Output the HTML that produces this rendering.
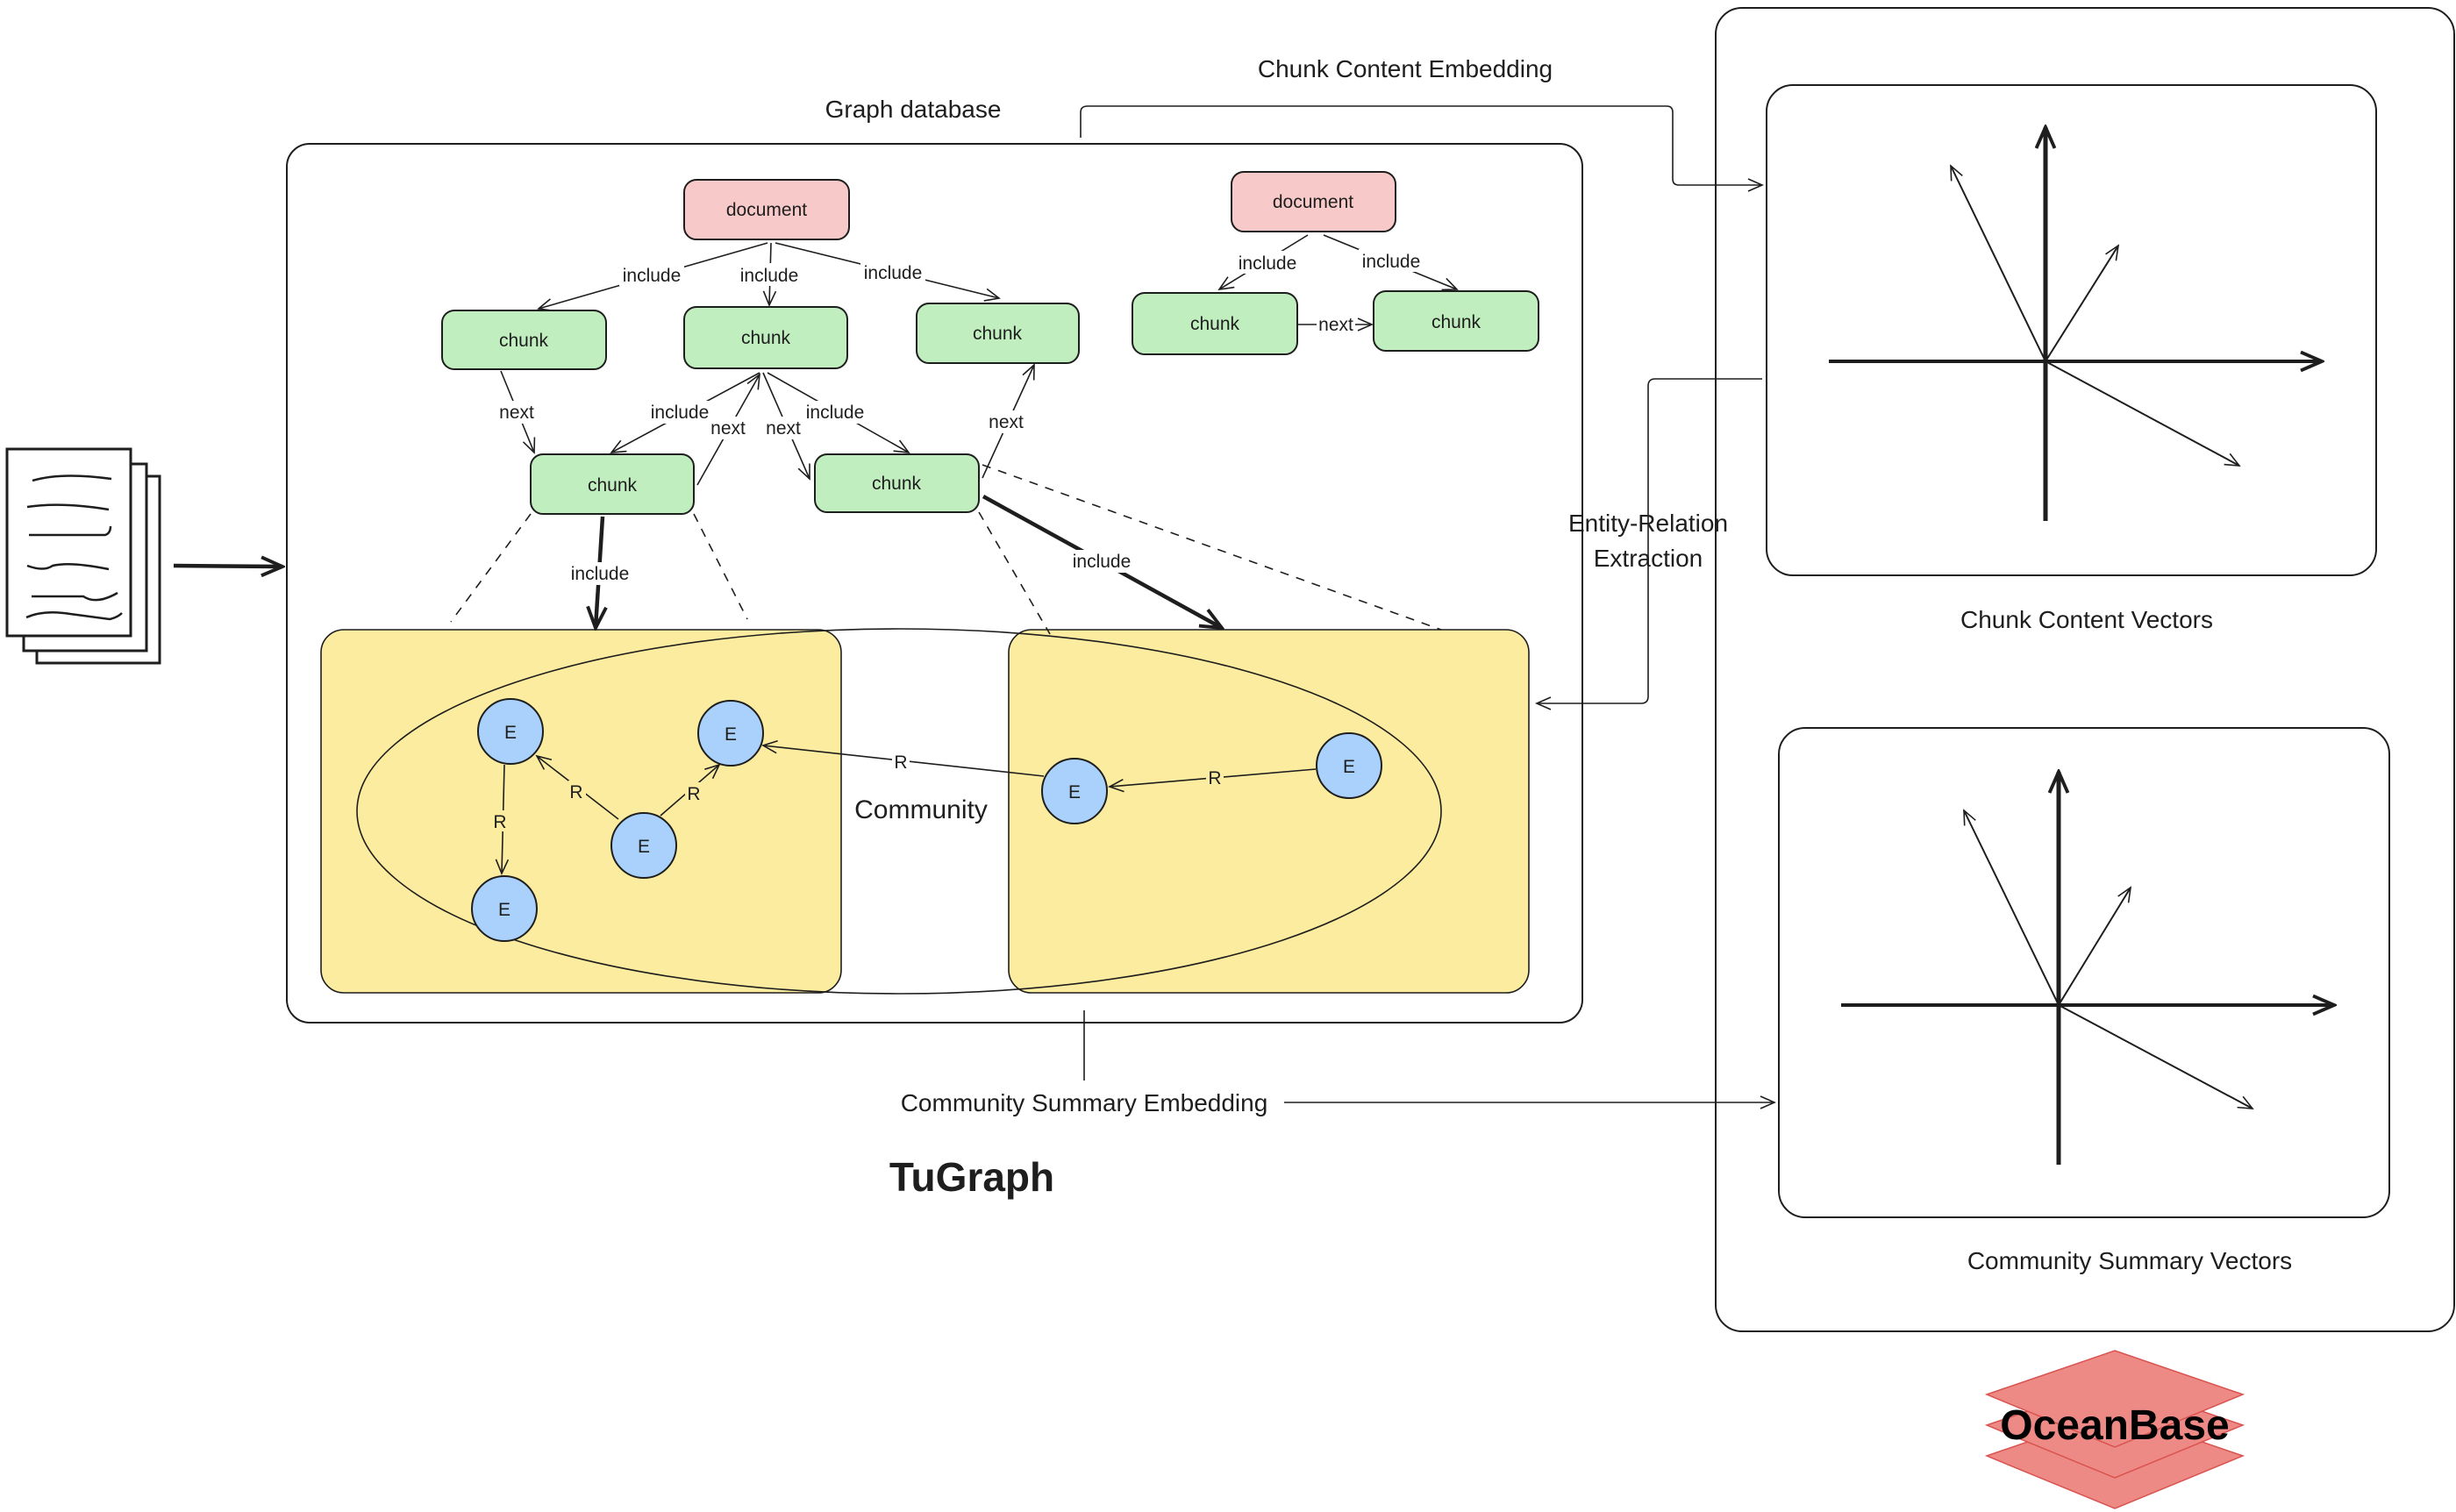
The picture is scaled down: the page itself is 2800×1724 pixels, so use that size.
<!DOCTYPE html>
<html><head><meta charset="utf-8"><style>
html,body{margin:0;padding:0;background:#fff}
svg{display:block}
text{font-family:"Liberation Sans",sans-serif;fill:#1e1e1e}
</style></head><body>
<svg width="2800" height="1724" viewBox="0 0 2800 1724" xmlns="http://www.w3.org/2000/svg">
<defs>
<marker id="a" viewBox="0 0 20 20" refX="18" refY="10" markerWidth="20" markerHeight="20" markerUnits="userSpaceOnUse" orient="auto"><path d="M2 3 L18 10 L2 17" fill="none" stroke="#1e1e1e" stroke-width="1.6"/></marker>
<marker id="b" viewBox="0 0 20 20" refX="18" refY="10" markerWidth="30" markerHeight="30" markerUnits="userSpaceOnUse" orient="auto"><path d="M2 3 L18 10 L2 17" fill="none" stroke="#1e1e1e" stroke-width="2.6"/></marker>
</defs>
<g fill="none" stroke="#1e1e1e">
<rect x="42" y="543" width="140" height="213" fill="#fff" stroke-width="3"/>
<rect x="27" y="529" width="140" height="213" fill="#fff" stroke-width="3"/>
<rect x="8" y="512" width="141" height="213" fill="#fff" stroke-width="3"/>
<g stroke-width="2.5">
<path d="M37 548 Q70 538 127 546"/><path d="M31 578 Q70 572 124 581"/><path d="M33 610 L120 610 Q126 608 126 600"/>
<path d="M31 645 Q50 652 60 645 Q80 640 124 649"/><path d="M36 680 L95 680 Q110 690 134 676"/><path d="M30 704 Q50 695 80 700 L125 706 Q134 704 139 699"/>
</g>
<line x1="198" y1="645" x2="322" y2="646" stroke-width="4.5" marker-end="url(#b)"/>

<rect x="327" y="164" width="1477" height="1002" rx="26" stroke-width="2"/>
<rect x="1956" y="9" width="842" height="1509" rx="30" stroke-width="2"/>
<rect x="2014" y="97" width="695" height="559" rx="30" stroke-width="2"/>
<rect x="2028" y="830" width="696" height="558" rx="30" stroke-width="2"/>

<path d="M1232 157 L1232 128 Q1232 121 1240 121 L1900 121 Q1907 121 1907 128 L1907 204 Q1907 211 1914 211 L2009 211" stroke-width="1.6" marker-end="url(#a)"/>
<path d="M2009 432 L1887 432 Q1879 432 1879 440 L1879 794 Q1879 802 1871 802 L1752 802" stroke-width="1.6" marker-end="url(#a)"/>
<path d="M1236 1152 L1236 1232" stroke-width="1.6"/>
<line x1="1464" y1="1257" x2="2023" y2="1257" stroke-width="1.6" marker-end="url(#a)"/>

<line x1="2332" y1="594" x2="2332" y2="145" stroke-width="5" marker-end="url(#b)"/>
<line x1="2085" y1="412" x2="2647" y2="412" stroke-width="4" marker-end="url(#b)"/>
<line x1="2332" y1="412" x2="2224" y2="189" stroke-width="2" marker-end="url(#a)"/>
<line x1="2332" y1="412" x2="2415" y2="280" stroke-width="2" marker-end="url(#a)"/>
<line x1="2332" y1="412" x2="2553" y2="531" stroke-width="2" marker-end="url(#a)"/>
<line x1="2347" y1="1328" x2="2347" y2="880" stroke-width="5" marker-end="url(#b)"/>
<line x1="2099" y1="1146" x2="2661" y2="1146" stroke-width="4" marker-end="url(#b)"/>
<line x1="2347" y1="1146" x2="2239" y2="924" stroke-width="2" marker-end="url(#a)"/>
<line x1="2347" y1="1146" x2="2429" y2="1012" stroke-width="2" marker-end="url(#a)"/>
<line x1="2347" y1="1146" x2="2568" y2="1264" stroke-width="2" marker-end="url(#a)"/>

<rect x="366" y="718" width="593" height="414" rx="26" fill="#fcec9f" stroke-width="1.6"/>
<rect x="1150" y="718" width="593" height="414" rx="26" fill="#fcec9f" stroke-width="1.6"/>
<ellipse cx="1025" cy="925" rx="618" ry="208" stroke-width="1.6"/>

<g stroke-dasharray="10 9" stroke-width="1.6">
<line x1="605" y1="586" x2="514" y2="709"/><line x1="791" y1="586" x2="852" y2="706"/>
<line x1="1116" y1="584" x2="1197" y2="723"/><line x1="1120" y1="530" x2="1643" y2="718"/>
</g>

<g stroke-width="2">
<rect x="780" y="205" width="188" height="68" rx="14" fill="#f8c9c9"/>
<rect x="1404" y="196" width="187" height="68" rx="14" fill="#f8c9c9"/>
<rect x="504" y="354" width="187" height="67" rx="14" fill="#c0eebf"/>
<rect x="780" y="350" width="186" height="70" rx="14" fill="#c0eebf"/>
<rect x="1045" y="346" width="185" height="68" rx="14" fill="#c0eebf"/>
<rect x="1291" y="334" width="188" height="70" rx="14" fill="#c0eebf"/>
<rect x="1566" y="332" width="188" height="68" rx="14" fill="#c0eebf"/>
<rect x="605" y="518" width="186" height="68" rx="14" fill="#c0eebf"/>
<rect x="929" y="518" width="187" height="66" rx="14" fill="#c0eebf"/>
</g>
<g stroke-width="1.6">
<line x1="875" y1="277" x2="614" y2="352" marker-end="url(#a)"/>
<line x1="879" y1="277" x2="877" y2="348" marker-end="url(#a)"/>
<line x1="884" y1="277" x2="1139" y2="340" marker-end="url(#a)"/>
<line x1="1491" y1="268" x2="1390" y2="330" marker-end="url(#a)"/>
<line x1="1509" y1="268" x2="1661" y2="330" marker-end="url(#a)"/>
<line x1="1479" y1="370" x2="1564" y2="370" marker-end="url(#a)"/>
<line x1="571" y1="423" x2="609" y2="516" marker-end="url(#a)"/>
<line x1="866" y1="425" x2="697" y2="516" marker-end="url(#a)"/>
<line x1="795" y1="553" x2="866" y2="427" marker-end="url(#a)"/>
<line x1="870" y1="425" x2="923" y2="546" marker-end="url(#a)"/>
<line x1="875" y1="425" x2="1036" y2="516" marker-end="url(#a)"/>
<line x1="1120" y1="545" x2="1179" y2="416" marker-end="url(#a)"/>
</g>
<line x1="687" y1="589" x2="679" y2="716" stroke-width="4.5" marker-end="url(#b)"/>
<line x1="1121" y1="566" x2="1393" y2="716" stroke-width="4.5" marker-end="url(#b)"/>

<g stroke-width="1.6">
<line x1="575" y1="872" x2="572" y2="996" marker-end="url(#a)"/>
<line x1="705" y1="934" x2="612" y2="862" marker-end="url(#a)"/>
<line x1="753" y1="930" x2="820" y2="872" marker-end="url(#a)"/>
<line x1="1190" y1="885" x2="870" y2="850" marker-end="url(#a)"/>
<line x1="1500" y1="877" x2="1265" y2="897" marker-end="url(#a)"/>
</g>
<g fill="#a9d1fb" stroke-width="2">
<circle cx="582" cy="834" r="37"/><circle cx="833" cy="836" r="37"/><circle cx="734" cy="964" r="37"/>
<circle cx="575" cy="1036" r="37"/><circle cx="1225" cy="902" r="37"/><circle cx="1538" cy="873" r="37"/>
</g>
<g fill="#ee8a86" stroke="#d9534f" stroke-width="1.5">
<polygon points="2411,1610 2557,1660 2411,1720 2265,1660"/>
<polygon points="2411,1575 2557,1625 2411,1685 2265,1625"/>
<polygon points="2411,1540 2557,1590 2411,1650 2265,1590"/>
</g>
</g>

<g font-size="21" text-anchor="middle">
<g fill="#fff" stroke="none">
<rect x="706" y="300" width="74" height="26"/><rect x="840" y="300" width="74" height="26"/><rect x="981" y="297" width="74" height="26"/>
<rect x="1408" y="286" width="74" height="26"/><rect x="1549" y="284" width="74" height="26"/><rect x="1501" y="357" width="44" height="26"/>
<rect x="567" y="457" width="44" height="26"/><rect x="738" y="457" width="74" height="26"/><rect x="808" y="475" width="44" height="26"/>
<rect x="871" y="475" width="44" height="26"/><rect x="915" y="457" width="74" height="26"/><rect x="1125" y="468" width="44" height="26"/>
<rect x="647" y="641" width="74" height="26"/><rect x="1219" y="627" width="74" height="26"/>
</g>
<text x="743" y="321">include</text><text x="877" y="321">include</text><text x="1018" y="318">include</text>
<text x="1445" y="307">include</text><text x="1586" y="305">include</text><text x="1523" y="377">next</text>
<text x="589" y="477">next</text><text x="775" y="477">include</text><text x="830" y="495">next</text>
<text x="893" y="495">next</text><text x="952" y="477">include</text><text x="1147" y="488">next</text>
<text x="684" y="661">include</text><text x="1256" y="647">include</text>
<text x="874" y="246">document</text><text x="1497" y="237">document</text>
<text x="597" y="395">chunk</text><text x="873" y="392">chunk</text><text x="1137" y="387">chunk</text>
<text x="1385" y="376">chunk</text><text x="1660" y="374">chunk</text><text x="698" y="560">chunk</text><text x="1022" y="558">chunk</text>
<g fill="#fcec9f" stroke="none">
<rect x="561" y="924" width="20" height="24"/><rect x="648" y="890" width="20" height="24"/><rect x="781" y="892" width="20" height="24"/>
<rect x="1375" y="874" width="20" height="24"/></g>
<rect x="1017" y="856" width="20" height="24" fill="#fff"/>
<text x="570" y="944">R</text><text x="657" y="910">R</text><text x="791" y="912">R</text><text x="1027" y="876">R</text><text x="1385" y="894">R</text>
<text x="582" y="842">E</text><text x="833" y="844">E</text><text x="734" y="972">E</text><text x="575" y="1044">E</text><text x="1225" y="910">E</text><text x="1538" y="881">E</text>
</g>
<g font-size="28" text-anchor="middle">
<text x="1041" y="134">Graph database</text>
<text x="1602" y="88">Chunk Content Embedding</text>
<text x="1879" y="606">Entity-Relation</text>
<text x="1879" y="646">Extraction</text>
<text x="1236" y="1267">Community Summary Embedding</text>
<text x="2379" y="716">Chunk Content Vectors</text>
<text x="2428" y="1447">Community Summary Vectors</text>
<text x="1050" y="933" font-size="30">Community</text>
<text x="1108" y="1358" font-size="46" font-weight="bold">TuGraph</text>
<text x="2411" y="1641" font-size="48" font-weight="bold" style="fill:#000">OceanBase</text>
</g>
</svg>
</body></html>
